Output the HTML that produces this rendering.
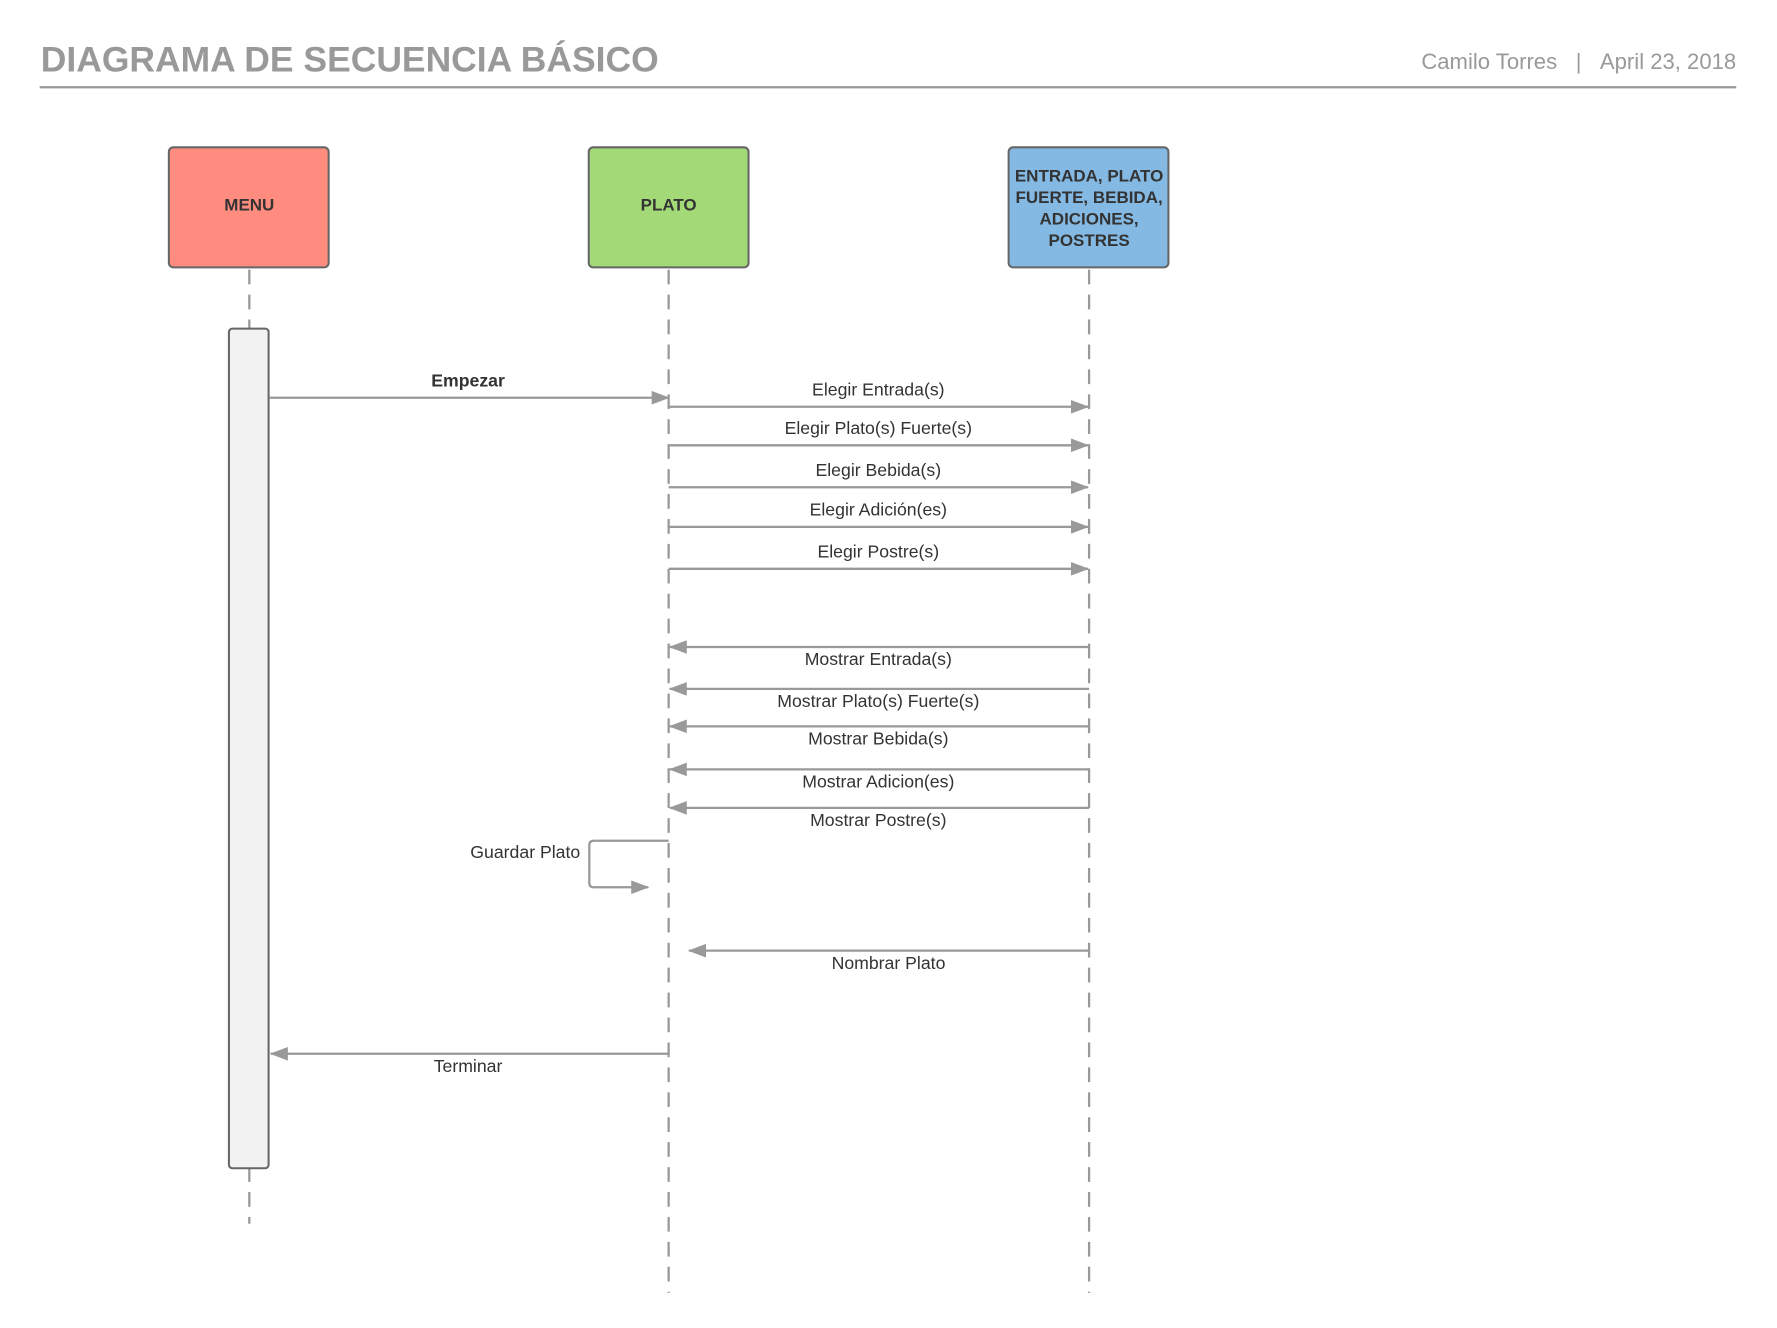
<!DOCTYPE html>
<html><head><meta charset="utf-8"><style>
html,body{margin:0;padding:0;background:#fff;}
svg{display:block;}
text{font-family:"Liberation Sans",Arial,sans-serif;}
</style></head><body>
<svg width="1777" height="1328" viewBox="0 0 1568 1172" preserveAspectRatio="none" xmlns="http://www.w3.org/2000/svg">
<defs>
<marker id="ah" markerWidth="16" markerHeight="12" refX="15" refY="6" orient="auto" markerUnits="userSpaceOnUse">
<path d="M0,0 L16,6 L0,12 Z" fill="#999"/>
</marker>
</defs>
<text x="36" y="63" font-size="31.3" font-weight="bold" fill="#999">DIAGRAMA DE SECUENCIA BÁSICO</text>
<text x="1374" y="61" font-size="19.5" fill="#999" text-anchor="end">Camilo Torres</text>
<text x="1393" y="61" font-size="19.5" fill="#999" text-anchor="middle">|</text>
<text x="1532" y="61" font-size="19.5" fill="#999" text-anchor="end">April 23, 2018</text>
<line x1="35" y1="77" x2="1532" y2="77" stroke="#999" stroke-width="2"/>

<g stroke="#999" stroke-width="2" stroke-dasharray="13,9" fill="none">
<line x1="220" y1="238" x2="220" y2="1080"/>
<line x1="590" y1="238" x2="590" y2="1141"/>
<line x1="961" y1="238" x2="961" y2="1141"/>
</g>

<rect x="149" y="130" width="141" height="106" rx="4" fill="#FF8C7E" stroke="#666" stroke-width="1.8"/>
<rect x="519.5" y="130" width="141" height="106" rx="4" fill="#A3D977" stroke="#666" stroke-width="1.8"/>
<rect x="890" y="130" width="141" height="106" rx="4" fill="#83B9E3" stroke="#666" stroke-width="1.8"/>
<g font-size="15" font-weight="bold" fill="#333" text-anchor="middle">
<text x="220" y="186">MENU</text>
<text x="590" y="186">PLATO</text>
<text x="961" y="160">ENTRADA, PLATO</text>
<text x="961" y="179">FUERTE, BEBIDA,</text>
<text x="961" y="198">ADICIONES,</text>
<text x="961" y="217">POSTRES</text>
</g>

<rect x="202" y="290" width="35" height="741" rx="3" fill="#f2f2f2" stroke="#666" stroke-width="1.8"/>

<g stroke="#999" stroke-width="2" fill="none" marker-end="url(#ah)">
<line x1="238" y1="351" x2="590" y2="351"/>
<line x1="590" y1="359" x2="960" y2="359"/>
<line x1="590" y1="393" x2="960" y2="393"/>
<line x1="590" y1="430" x2="960" y2="430"/>
<line x1="590" y1="465" x2="960" y2="465"/>
<line x1="590" y1="502" x2="960" y2="502"/>
<line x1="961" y1="571" x2="591" y2="571"/>
<line x1="961" y1="608" x2="591" y2="608"/>
<line x1="961" y1="641" x2="591" y2="641"/>
<line x1="961" y1="679" x2="591" y2="679"/>
<line x1="961" y1="713" x2="591" y2="713"/>
<path d="M590,742 L524,742 Q520,742 520,746 L520,779 Q520,783 524,783 L572,783"/>
<line x1="961" y1="839" x2="608" y2="839"/>
<line x1="590" y1="930" x2="239" y2="930"/>
</g>

<g font-size="15.6" fill="#333" text-anchor="middle">
<text x="413" y="341" font-weight="bold">Empezar</text>
<text x="775" y="349">Elegir Entrada(s)</text>
<text x="775" y="383">Elegir Plato(s) Fuerte(s)</text>
<text x="775" y="420">Elegir Bebida(s)</text>
<text x="775" y="455">Elegir Adición(es)</text>
<text x="775" y="492">Elegir Postre(s)</text>
<text x="775" y="587">Mostrar Entrada(s)</text>
<text x="775" y="624">Mostrar Plato(s) Fuerte(s)</text>
<text x="775" y="657">Mostrar Bebida(s)</text>
<text x="775" y="695">Mostrar Adicion(es)</text>
<text x="775" y="729">Mostrar Postre(s)</text>
<text x="512" y="757" text-anchor="end">Guardar Plato</text>
<text x="784" y="855">Nombrar Plato</text>
<text x="413" y="946">Terminar</text>
</g>
</svg>
</body></html>
